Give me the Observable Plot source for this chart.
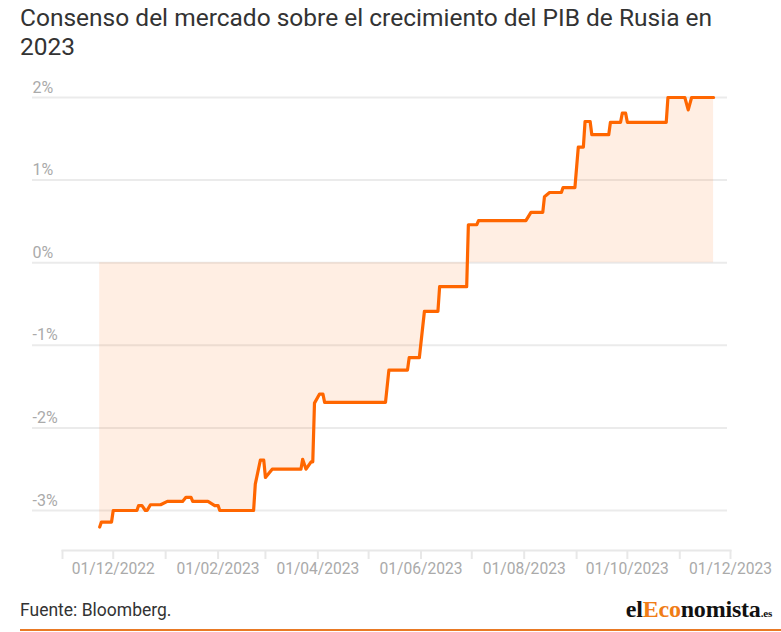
<!DOCTYPE html>
<html>
<head>
<meta charset="utf-8">
<script src="https://cdn.jsdelivr.net/npm/d3@7"></script>
<script src="https://cdn.jsdelivr.net/npm/@observablehq/plot@0.6"></script>
<style>
  html, body { margin: 0; padding: 0; background: #fff; }
  #wrap { position: relative; width: 781px; height: 632px; overflow: hidden; font-family: Roboto, sans-serif; }
  #title { position: absolute; left: 20px; top: 3px; font-size: 24.5px; line-height: 29px; color: #333; font-weight: 400; }
  #chart { position: absolute; left: 0; top: 70px; }
  #source { position: absolute; left: 20px; top: 600px; font-size: 17.5px; color: #333; }
  #logo { position: absolute; right: 9px; top: 596px; font-family: "Liberation Serif", serif; font-weight: 700; font-size: 24px; color: #111; letter-spacing: -0.2px; }
  #logo .o { color: #f07d16; }
  #logo .es { font-size: 11px; }
  #rule { position: absolute; left: 20px; top: 629px; width: 761px; height: 2px; background: #e97a25; }
</style>
</head>
<body>
<div id="wrap">
  <div id="title">Consenso del mercado sobre el crecimiento del PIB de Rusia en<br>2023</div>
  <div id="chart"></div>
  <div id="source">Fuente: Bloomberg.</div>
  <div id="logo">el<span class="o">Eco</span>nomista<span class="es">.es</span></div>
  <div id="rule"></div>
</div>
<script>
// ---- data ----
const dates = ["2022-11-23","2022-11-24","2022-11-30","2022-12-01","2022-12-15","2022-12-16","2022-12-18","2022-12-20","2022-12-21","2022-12-23","2022-12-29","2023-01-02","2023-01-11","2023-01-13","2023-01-16","2023-01-17","2023-01-26","2023-01-30","2023-02-01","2023-02-02","2023-02-22","2023-02-23","2023-02-26","2023-02-28","2023-03-01","2023-03-05","2023-03-22","2023-03-23","2023-03-25","2023-03-28","2023-03-29","2023-03-30","2023-04-02","2023-04-04","2023-04-05","2023-05-11","2023-05-13","2023-05-24","2023-05-25","2023-05-31","2023-06-03","2023-06-11","2023-06-12","2023-06-28","2023-06-29","2023-07-04","2023-07-05","2023-08-02","2023-08-05","2023-08-12","2023-08-13","2023-08-16","2023-08-23","2023-08-24","2023-08-31","2023-09-02","2023-09-05","2023-09-06","2023-09-09","2023-09-10","2023-09-20","2023-09-21","2023-09-27","2023-09-28","2023-09-30","2023-10-01","2023-10-24","2023-10-25","2023-11-04","2023-11-06","2023-11-08","2023-11-21"];
const values = [-3.20,-3.14,-3.14,-3.00,-3.00,-2.94,-2.94,-3.00,-3.00,-2.93,-2.93,-2.89,-2.89,-2.84,-2.84,-2.89,-2.89,-2.94,-2.94,-3.00,-3.00,-2.68,-2.39,-2.39,-2.60,-2.50,-2.50,-2.38,-2.50,-2.41,-2.41,-1.70,-1.59,-1.59,-1.69,-1.69,-1.30,-1.30,-1.15,-1.15,-0.59,-0.59,-0.29,-0.29,0.46,0.46,0.51,0.51,0.61,0.61,0.80,0.85,0.85,0.91,0.91,1.40,1.40,1.71,1.71,1.55,1.55,1.70,1.70,1.81,1.81,1.70,1.70,2.00,2.00,1.85,2.00,2.00];

const yTicks = [-3, -2, -1, 0, 1, 2];
const yTickLabels = ["-3%", "-2%", "-1%", "0%", "1%", "2%"];
const xMonthTicks = ["2022-11-01","2022-12-01","2023-01-01","2023-02-01","2023-03-01","2023-04-01","2023-05-01","2023-06-01","2023-07-01","2023-08-01","2023-09-01","2023-10-01","2023-11-01","2023-12-01"];
const xLabelTicks = ["2022-12-01","2023-02-01","2023-04-01","2023-06-01","2023-08-01","2023-10-01","2023-12-01"];
const xTickLabels = ["01/12/2022","01/02/2023","01/04/2023","01/06/2023","01/08/2023","01/10/2023","01/12/2023"];
const xDomain = ["2022-11-01", "2023-12-01"];
const yDomain = [-3.484, 2.085];

// ---- build ----
const parse = d3.utcParse("%Y-%m-%d");
const data = dates.map((d, i) => ({date: parse(d), v: values[i]}));
const yTickData = yTicks.map((v, i) => ({v, label: yTickLabels[i]}));
const xLabelData = xLabelTicks.map((d, i) => ({date: parse(d), label: xTickLabels[i]}));

const orange = "#ff6600";
const gray = "#aaaaaa";

const chart = Plot.plot({
  width: 781,
  height: 520,
  marginLeft: 62,
  marginRight: 51,
  marginTop: 20,
  marginBottom: 40,
  style: {fontFamily: "Roboto, sans-serif", fontSize: "16px", background: "transparent"},
  x: {type: "utc", domain: xDomain.map(parse), axis: null},
  y: {domain: yDomain, axis: null},
  marks: [
    Plot.ruleY(yTicks, {stroke: "#ebebeb", strokeWidth: 2, insetLeft: -30, insetRight: 3}),
    Plot.areaY(data, {x: "date", y1: 0, y2: "v", fill: orange, fillOpacity: 0.11, curve: "linear"}),
    Plot.lineY(data, {x: "date", y: "v", stroke: orange, strokeWidth: 3.2, curve: "linear"}),
    Plot.frame({anchor: "bottom", stroke: "#e8e8e8", strokeWidth: 2}),
    Plot.axisX({ticks: xMonthTicks.map(parse), tickSize: 9, tickFormat: () => "", stroke: "#e8e8e8", strokeWidth: 2}),
    Plot.text(xLabelData, {x: "date", text: "label", frameAnchor: "bottom", lineAnchor: "top", dy: 12, fill: gray, fontSize: 15.6}),
    Plot.text(yTickData, {y: "v", text: "label", frameAnchor: "left", textAnchor: "start", dx: -30, dy: -10, fill: gray, fontSize: 16})
  ]
});
document.getElementById("chart").appendChild(chart);
</script>
</body>
</html>
